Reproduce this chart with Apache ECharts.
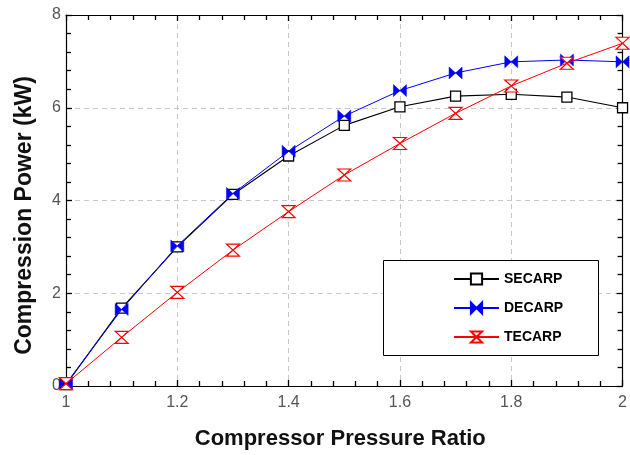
<!DOCTYPE html>
<html>
<head>
<meta charset="utf-8">
<script src="https://cdn.jsdelivr.net/npm/echarts@6/dist/echarts.min.js"></script>
<style>
html,body{margin:0;padding:0;background:#fff;}
#chart{width:630px;height:455px;}
</style>
</head>
<body>
<div id="chart"></div>
<script>
var ratios = [1.0, 1.1, 1.2, 1.3, 1.4, 1.5, 1.6, 1.7, 1.8, 1.9, 2.0];
var secarp = [0.03, 1.68, 3.0, 4.13, 4.96, 5.62, 6.02, 6.25, 6.29, 6.23, 6.0];
var decarp = [0.05, 1.65, 3.02, 4.15, 5.06, 5.82, 6.37, 6.75, 6.99, 7.03, 6.99];
var tecarp = [0.05, 1.05, 2.02, 2.93, 3.76, 4.55, 5.23, 5.88, 6.47, 6.96, 7.39];
var seriesNames = ['SECARP', 'DECARP', 'TECARP'];
var xTitle = 'Compressor Pressure Ratio';
var yTitle = 'Compression Power (kW)';

function pairs(vals) { return ratios.map(function (r, i) { return [r, vals[i]]; }); }

var chart = echarts.init(document.getElementById('chart'), null, {renderer: 'canvas'});

function tickCfg() {
  return {show: true, inside: true, length: 6, lineStyle: {color: '#000', width: 1.3}};
}
function minorCfg() {
  return {show: true, splitNumber: 5, length: 5, lineStyle: {color: '#000', width: 1.3}};
}
function lineCfg(oz) {
  return {show: true, onZero: oz, lineStyle: {color: '#000', width: 1.2}};
}
var gridDash = {show: true, lineStyle: {color: '#c8c8c8', type: [5, 4], width: 1}};

var option = {
  animation: false,
  backgroundColor: '#fff',
  grid: {left: 66, right: 2, top: 15, bottom: 69},
  xAxis: [
    {
      type: 'value', min: 1, max: 2, interval: 0.2, position: 'bottom',
      axisLine: lineCfg(true), axisTick: tickCfg(), minorTick: minorCfg(),
      axisLabel: {color: '#555', fontSize: 16, margin: 9, fontFamily: 'Liberation Sans',
        formatter: function (v) { return String(Math.round(v * 10) / 10); }},
      splitLine: gridDash,
      name: xTitle, nameLocation: 'middle', nameGap: 42,
      nameTextStyle: {fontSize: 22, fontWeight: 'bold', color: '#111', fontFamily: 'Liberation Sans', padding: [0, 8, 0, 0]}
    },
    {
      type: 'value', min: 1, max: 2, interval: 0.2, position: 'top',
      axisLine: lineCfg(false), axisTick: tickCfg(), minorTick: minorCfg(),
      axisLabel: {show: false}, splitLine: {show: false}
    }
  ],
  yAxis: [
    {
      type: 'value', min: 0, max: 8, interval: 2, position: 'left',
      axisLine: lineCfg(true), axisTick: tickCfg(), minorTick: minorCfg(),
      axisLabel: {color: '#555', fontSize: 16, margin: 5, fontFamily: 'Liberation Sans'},
      splitLine: gridDash,
      name: yTitle, nameLocation: 'middle', nameGap: 30,
      nameTextStyle: {fontSize: 23, fontWeight: 'bold', color: '#111', fontFamily: 'Liberation Sans', padding: [0, 30, 0, 0]}
    },
    {
      type: 'value', min: 0, max: 8, interval: 2, position: 'right',
      axisLine: lineCfg(false), axisTick: tickCfg(), minorTick: minorCfg(),
      axisLabel: {show: false}, splitLine: {show: false}
    }
  ],
  graphic: [{
    type: 'rect', left: 383, top: 260, z: 5,
    shape: {width: 215, height: 95},
    style: {fill: '#fff', stroke: '#000', lineWidth: 1}
  }],
  legend: {
    orient: 'vertical', left: 453, top: 272, z: 10,
    itemWidth: 45, itemHeight: 14, itemGap: 15, padding: 0,
    textStyle: {fontSize: 14, fontWeight: 'bold', color: '#000', fontFamily: 'Liberation Sans'},
    data: seriesNames
  },
  series: [
    {
      name: seriesNames[0], type: 'line', data: pairs(secarp),
      symbol: 'rect', symbolSize: 10,
      lineStyle: {color: '#000', width: 1.1},
      itemStyle: {color: '#fff', borderColor: '#000', borderWidth: 1.3},
      z: 3
    },
    {
      name: seriesNames[1], type: 'line', data: pairs(decarp),
      symbol: 'path://M0,0L10,5L0,10Z M20,0L10,5L20,10Z', symbolSize: [13, 12],
      lineStyle: {color: '#0000ff', width: 1},
      itemStyle: {color: '#0000ff', borderColor: '#0000ff', borderWidth: 0.5},
      z: 4
    },
    {
      name: seriesNames[2], type: 'line', data: pairs(tecarp),
      symbol: 'path://M0,0L10,0L5,5Z M0,10L10,10L5,5Z', symbolSize: [13, 12],
      lineStyle: {color: '#ff0000', width: 1},
      itemStyle: {color: '#fff', borderColor: '#ff0000', borderWidth: 1.2},
      z: 5
    }
  ]
};
chart.setOption(option);
</script>
</body>
</html>
